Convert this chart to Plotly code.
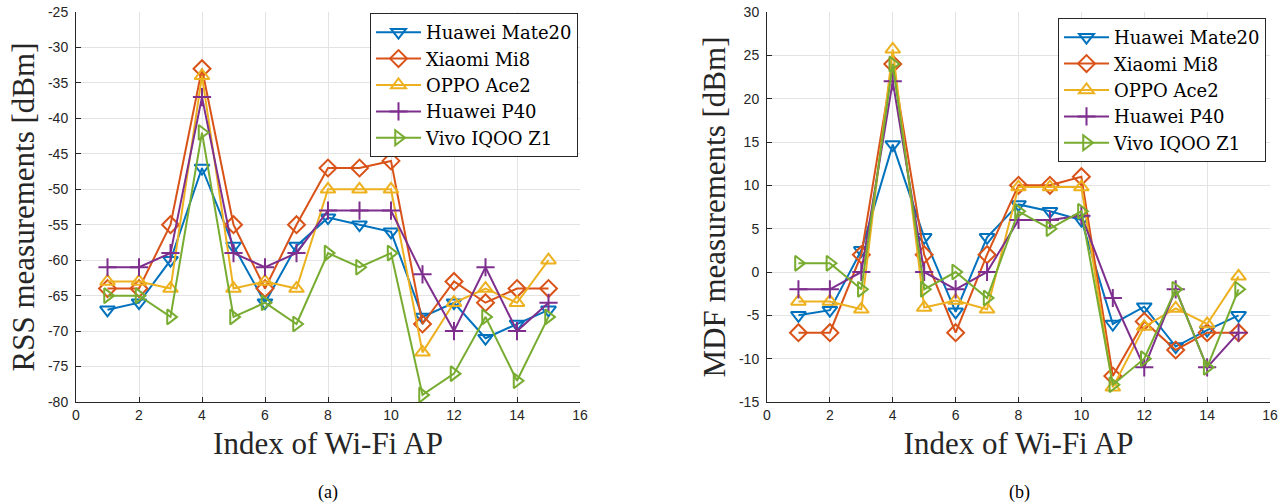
import plotly.graph_objects as go

ap_index = list(range(1, 16))
series_names = ["Huawei Mate20", "Xiaomi Mi8", "OPPO Ace2", "Huawei P40", "Vivo IQOO Z1"]

rss_mate20 = [-67, -66, -60, -47, -58, -66, -58, -54, -55, -56, -68, -66, -71, -69, -67]
rss_mi8 = [-64, -64, -55, -33, -55, -64, -55, -47, -47, -46, -69, -63, -66, -64, -64]
rss_ace2 = [-63, -63, -64, -34, -64, -63, -64, -50, -50, -50, -73, -66, -64, -66, -60]
rss_p40 = [-61, -61, -59, -37, -59, -61, -59, -53, -53, -53, -62, -70, -61, -70, -66]
rss_iqoo = [-65, -65, -68, -42, -68, -66, -69, -59, -61, -59, -79, -76, -68, -77, -68]

mdf_mate20 = [-5, -4.4, 2.5, 14.7, 4, -4.6, 4, 7.8, 7, 6, -6, -4, -8.6, -6.7, -5]
mdf_mi8 = [-7, -7, 2, 24, 2, -7, 2, 10, 10, 11, -12, -5.7, -9, -7, -7]
mdf_ace2 = [-3.4, -3.4, -4.3, 25.7, -4.1, -3.3, -4.3, 9.8, 9.8, 9.8, -13.3, -6.3, -4.2, -6, -0.5]
mdf_p40 = [-2, -2, 0, 22, 0, -2, 0, 6, 6, 6.5, -3, -11, -2, -11, -7]
mdf_iqoo = [1, 1, -2, 24, -2, 0, -3, 7, 5, 7, -13, -10, -2, -11, -2]

x_ticks = list(range(0, 17, 2))
rss_ticks = list(range(-80, -24, 5))
mdf_ticks = list(range(-15, 31, 5))

colors = ["#0072BD", "#D95319", "#EDB120", "#7E2F8E", "#77AC30"]
symbols = ["triangle-down-open", "diamond-open", "triangle-up-open", "cross-thin-open", "triangle-right-open"]

rss_data = [rss_mate20, rss_mi8, rss_ace2, rss_p40, rss_iqoo]
mdf_data = [mdf_mate20, mdf_mi8, mdf_ace2, mdf_p40, mdf_iqoo]

fig = go.Figure()
for i, name in enumerate(series_names):
    fig.add_trace(go.Scatter(
        x=ap_index, y=rss_data[i], name=name, mode="lines+markers",
        line=dict(color=colors[i], width=2),
        marker=dict(symbol=symbols[i], size=13, color=colors[i], line=dict(width=2, color=colors[i])),
        xaxis="x", yaxis="y", legend="legend"))
for i, name in enumerate(series_names):
    fig.add_trace(go.Scatter(
        x=ap_index, y=mdf_data[i], name=name, mode="lines+markers",
        line=dict(color=colors[i], width=2),
        marker=dict(symbol=symbols[i], size=13, color=colors[i], line=dict(width=2, color=colors[i])),
        xaxis="x2", yaxis="y2", legend="legend2"))

W, H = 1284, 502
yd = [1 - 402 / H, 1 - 12 / H]
tickfont = dict(family="Liberation Sans, Arial, sans-serif", size=14, color="#262626")
titlefont = dict(family="Liberation Serif, Times New Roman, serif", size=31, color="#262626")
legfont = dict(family="DejaVu Serif, serif", size=18, color="#000000")

common_x = dict(range=[0, 16], tickvals=x_ticks, ticktext=[str(v) for v in x_ticks],
                showgrid=True, gridcolor="#e3e3e3", gridwidth=1, zeroline=False,
                showline=True, linecolor="#262626", linewidth=1, ticks="inside", ticklen=5,
                tickcolor="#262626", tickfont=tickfont, automargin=False,
                title=dict(text="Index of Wi-Fi AP", font=titlefont, standoff=10))
common_y = dict(showgrid=True, gridcolor="#e3e3e3", gridwidth=1, zeroline=False,
                showline=True, linecolor="#262626", linewidth=1, ticks="inside", ticklen=5,
                tickcolor="#262626", tickfont=tickfont, automargin=False, ticklabelstandoff=4)

fig.update_layout(
    width=W, height=H, template="none", paper_bgcolor="white", plot_bgcolor="white",
    margin=dict(l=0, r=0, t=0, b=0),
    xaxis=dict(domain=[76 / W, 580 / W], anchor="y", **common_x),
    yaxis=dict(domain=yd, anchor="x", range=[-80, -25], tickvals=rss_ticks,
               ticktext=[str(v) for v in rss_ticks],
               title=dict(text="RSS measurements [dBm]", font=titlefont, standoff=4), **common_y),
    xaxis2=dict(domain=[767 / W, 1270 / W], anchor="y2", **common_x),
    yaxis2=dict(domain=yd, anchor="x2", range=[-15, 30], tickvals=mdf_ticks,
                ticktext=[str(v) for v in mdf_ticks],
                title=dict(text="MDF measurements [dBm]", font=titlefont, standoff=4), **common_y),
    legend=dict(x=578 / W, y=1 - 13 / H, xanchor="right", yanchor="top", bgcolor="white",
                bordercolor="#262626", borderwidth=1, font=legfont, itemwidth=45,
                tracegroupgap=0),
    legend2=dict(x=1266 / W, y=1 - 18 / H, xanchor="right", yanchor="top", bgcolor="white",
                 bordercolor="#262626", borderwidth=1, font=legfont, itemwidth=45,
                 tracegroupgap=0),
    annotations=[
        dict(text="(a)", x=328 / W, y=1 - 492 / H, xref="paper", yref="paper", showarrow=False,
             xanchor="center", yanchor="middle",
             font=dict(family="Liberation Serif, Times New Roman, serif", size=18, color="#000")),
        dict(text="(b)", x=1019 / W, y=1 - 492 / H, xref="paper", yref="paper", showarrow=False,
             xanchor="center", yanchor="middle",
             font=dict(family="Liberation Serif, Times New Roman, serif", size=18, color="#000")),
    ],
)

fig.write_html("out.html", config={"displayModeBar": False},
               post_script="document.body.style.margin='0px';")
